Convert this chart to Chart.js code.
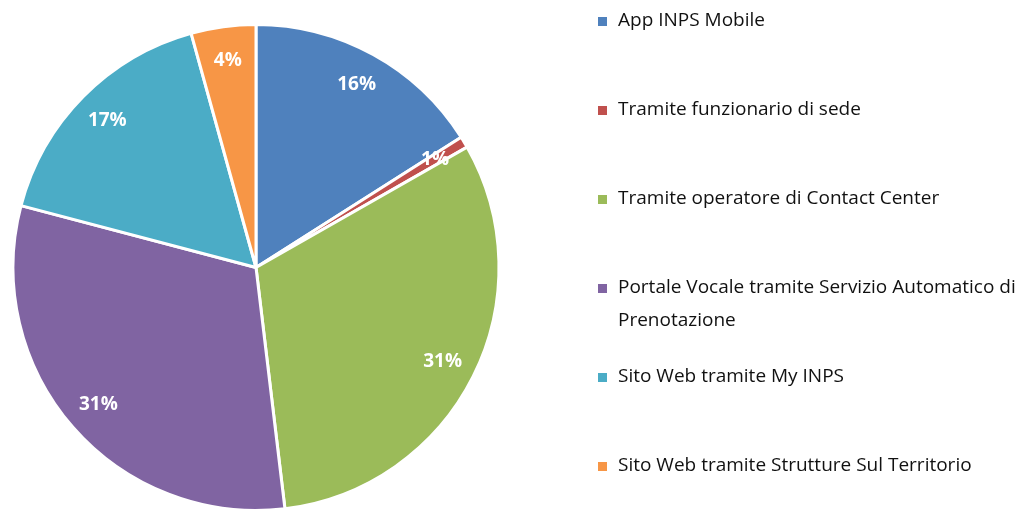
<!DOCTYPE html>
<html>
<head>
<meta charset="utf-8">
<script src="https://cdn.jsdelivr.net/npm/chart.js@4/dist/chart.umd.min.js"></script>
<style>
  html, body { margin: 0; padding: 0; background: #fff; }
  #wrap { width: 1030px; height: 512px; position: relative; }
</style>
</head>
<body>
<div id="wrap"><canvas id="pie"></canvas></div>
<script>
// Channel share (percent), clockwise from 12 o'clock
const LABELS = [
  'App INPS Mobile',
  'Tramite funzionario di sede',
  'Tramite operatore di Contact Center',
  ['Portale Vocale tramite Servizio Automatico di', 'Prenotazione'],
  'Sito Web tramite My INPS',
  'Sito Web tramite Strutture Sul Territorio'
];
const VALUES = [16.0, 0.75, 31.35, 31.0, 16.6, 4.3];
const COLORS = ['#4F81BD', '#C0504D', '#9BBB59', '#8064A2', '#4BACC6', '#F79646'];

const FONT = "'Open Sans', 'DejaVu Sans', sans-serif";

// percent labels drawn inside each slice
const sliceLabels = {
  id: 'sliceLabels',
  afterDatasetsDraw(chart) {
    const { ctx } = chart;
    const meta = chart.getDatasetMeta(0);
    const total = VALUES.reduce((a, b) => a + b, 0);
    ctx.save();
    ctx.font = 'bold 19px ' + FONT;
    ctx.fillStyle = '#fff';
    ctx.textAlign = 'center';
    ctx.textBaseline = 'middle';
    meta.data.forEach((arc, i) => {
      const mid = (arc.startAngle + arc.endAngle) / 2;
      const r = arc.outerRadius * 0.86;
      const x = arc.x + Math.cos(mid) * r;
      const y = arc.y + Math.sin(mid) * r;
      ctx.fillText(Math.round(VALUES[i] / total * 100) + '%', x, y);
    });
    ctx.restore();
  }
};

// legend on the right, one row every 89px
const sideLegend = {
  id: 'sideLegend',
  afterDraw(chart) {
    const { ctx } = chart;
    ctx.save();
    ctx.font = '19px ' + FONT;
    ctx.textBaseline = 'middle';
    LABELS.forEach((lab, i) => {
      const y = 21 + i * 89;
      ctx.fillStyle = COLORS[i];
      ctx.fillRect(598, y - 4, 9, 9);
      ctx.fillStyle = '#111';
      const lines = Array.isArray(lab) ? lab : [lab];
      lines.forEach((t, j) => ctx.fillText(t, 618, y + j * 33));
    });
    ctx.restore();
  }
};

new Chart(document.getElementById('pie').getContext('2d'), {
  type: 'pie',
  data: {
    labels: LABELS,
    datasets: [{
      data: VALUES,
      backgroundColor: COLORS,
      borderColor: '#fff',
      borderWidth: 3
    }]
  },
  options: {
    responsive: true,
    maintainAspectRatio: false,
    animation: false,
    layout: { padding: { left: 11, top: 23, right: 529, bottom: 0 } },
    plugins: {
      legend: { display: false },
      tooltip: { enabled: false }
    }
  },
  plugins: [sliceLabels, sideLegend]
});
</script>
</body>
</html>
